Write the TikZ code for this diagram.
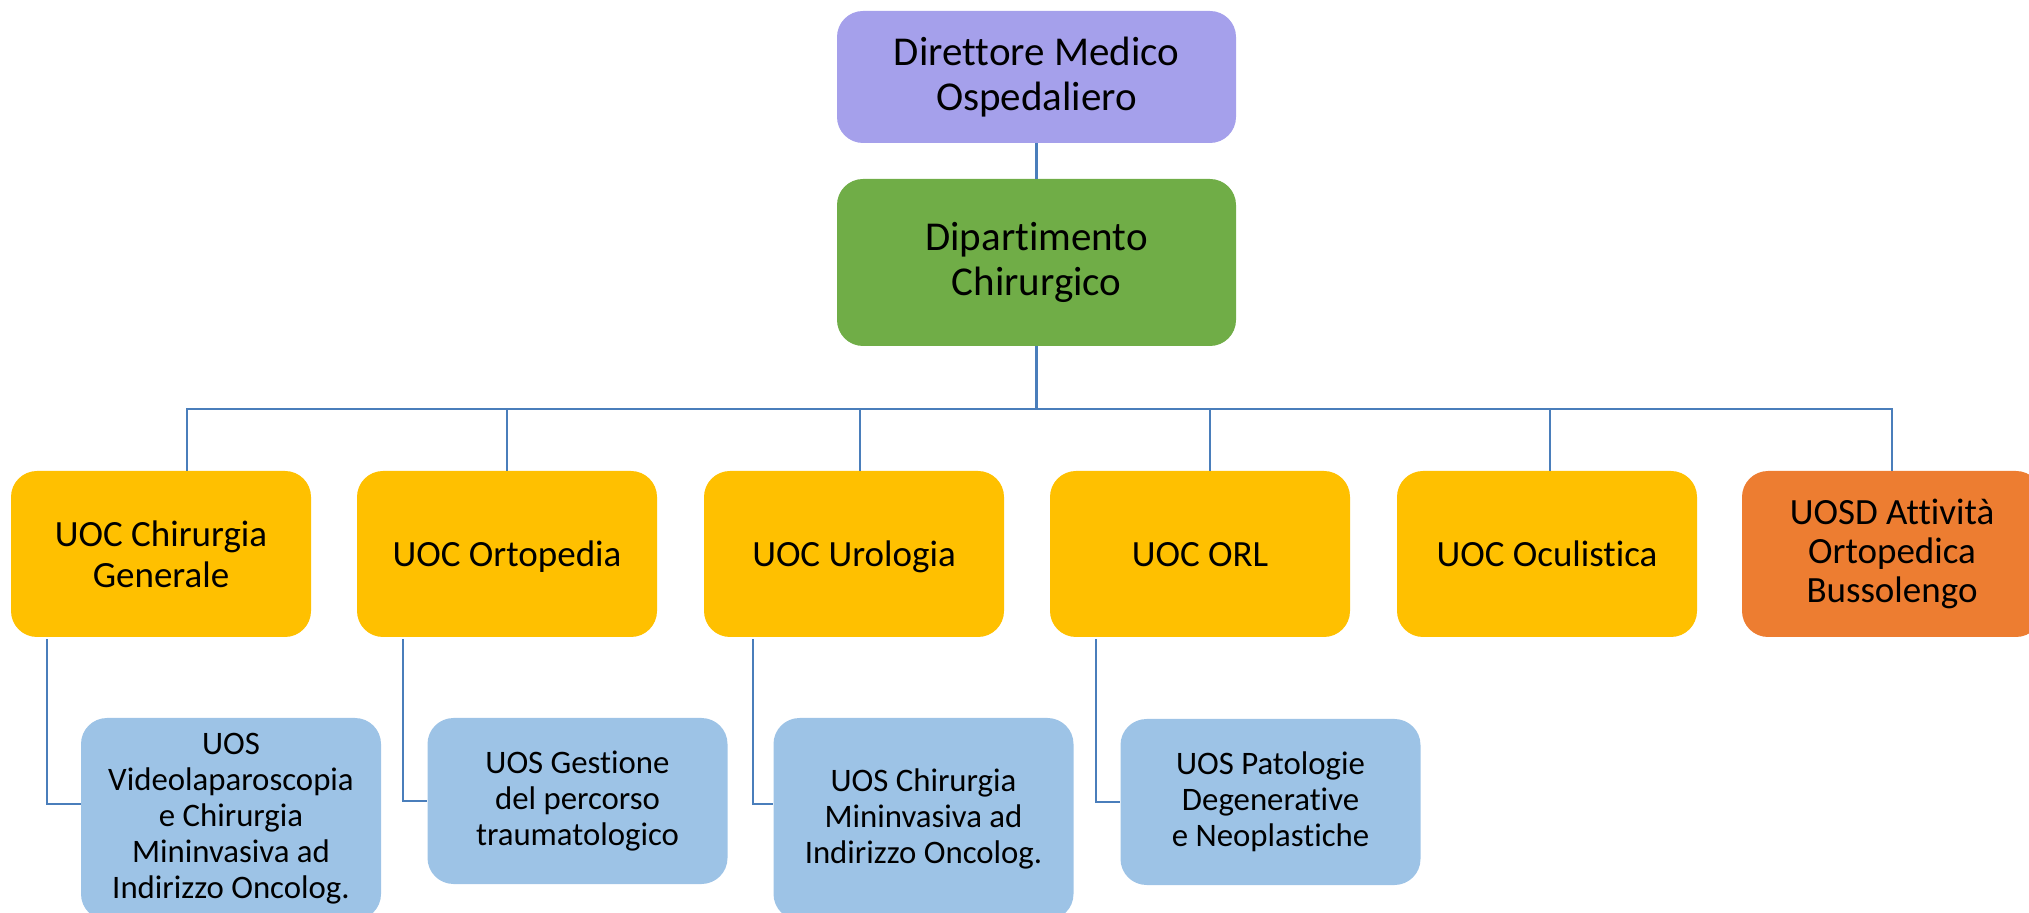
\documentclass[tikz,border=0pt]{standalone}
\usepackage{fontspec}
\setmainfont{Carlito}[RawFeature={-liga;-clig;-calt;-dlig}]
\definecolor{dirc}{HTML}{A5A0EB}
\definecolor{depc}{HTML}{70AD47}
\definecolor{uocc}{HTML}{FFC000}
\definecolor{uosdc}{HTML}{ED7D31}
\definecolor{uosc}{HTML}{9DC3E6}
\definecolor{linec}{HTML}{4A7EBB}
\begin{document}
\begin{tikzpicture}[x=0.5pt,y=-0.5pt,
  box/.style={rectangle, rounded corners=13pt, draw=none, inner sep=0pt, align=center, text=black},
  topbox/.style={box, minimum width=199.5pt, font=\fontsize{20.5pt}{22.5pt}\selectfont},
  uocbox/.style={box, fill=uocc, minimum width=150pt, minimum height=83pt, font=\fontsize{18.5pt}{20.5pt}\selectfont},
  oneline/.style={text depth=0pt},
  uosbox/.style={box, fill=uosc, minimum width=150pt, font=\fontsize{16.4pt}{18pt}\selectfont},
  conn/.style={draw=linec, line width=0.9pt},
  thickconn/.style={draw=linec, line width=1.7pt}]
\useasboundingbox (0,0) rectangle (2029,913);
% top
\node[topbox, fill=dirc, minimum height=66pt] (dir) at (1036.5,77) {Direttore Medico\\Ospedaliero};
\node[topbox, fill=depc, minimum height=83.5pt] (dep) at (1036.5,262.5) {Dipartimento\\Chirurgico};
% UOC row
\node[uocbox] (uocA) at (161,554) {UOC Chirurgia\\Generale};
\node[uocbox, oneline] (uocB) at (507,554) {UOC Ortopedia};
\node[uocbox, oneline] (uocC) at (854,554) {UOC Urologia};
\node[uocbox, oneline] (uocD) at (1200,554) {UOC ORL};
\node[uocbox, oneline] (uocE) at (1547,554) {UOC Oculistica};
\node[uocbox, fill=uosdc, font=\fontsize{18.5pt}{19.5pt}\selectfont] (uocF) at (1892,554) {UOSD Attività\\Ortopedica\\Bussolengo};
% UOS row
\node[uosbox, minimum height=101pt] (uosA) at (231,819) {UOS\\Videolaparoscopia\\e Chirurgia\\Mininvasiva ad\\Indirizzo Oncolog.};
\node[uosbox, minimum height=83pt] (uosB) at (577.5,801) {UOS Gestione\\del percorso\\traumatologico};
\node[uosbox, minimum height=101pt] (uosC) at (923.5,819) {UOS Chirurgia\\Mininvasiva ad\\Indirizzo Oncolog.};
\node[uosbox, minimum height=83pt] (uosD) at (1270.5,802) {UOS Patologie\\Degenerative\\e Neoplastiche};
% connectors
\coordinate (bus) at (1036.5,409);
\draw[thickconn] (dir) -- (dep);
\draw[thickconn] (dep) -- (bus);
\coordinate (tA) at ([xshift=13pt]uocA.north);
\coordinate (tB) at (uocB.north);
\coordinate (tC) at ([xshift=3pt]uocC.north);
\coordinate (tD) at ([xshift=5pt]uocD.north);
\coordinate (tE) at ([xshift=1.5pt]uocE.north);
\coordinate (tF) at (uocF.north);
\draw[conn] (tA) |- (bus);
\draw[conn] (tF) |- (bus);
\draw[conn] (tB) -- (tB |- bus);
\draw[conn] (tC) -- (tC |- bus);
\draw[conn] (tD) -- (tD |- bus);
\draw[conn] (tE) -- (tE |- bus);
\draw[conn] ([xshift=18pt,yshift=-1pt]uocA.south west) |- ([yshift=7.5pt]uosA.west);
\draw[conn] ([xshift=23pt,yshift=-1pt]uocB.south west) |- (uosB.west);
\draw[conn] ([xshift=24.5pt,yshift=-1pt]uocC.south west) |- ([yshift=7.5pt]uosC.west);
\draw[conn] ([xshift=23pt,yshift=-1pt]uocD.south west) |- (uosD.west);
\end{tikzpicture}
\end{document}
